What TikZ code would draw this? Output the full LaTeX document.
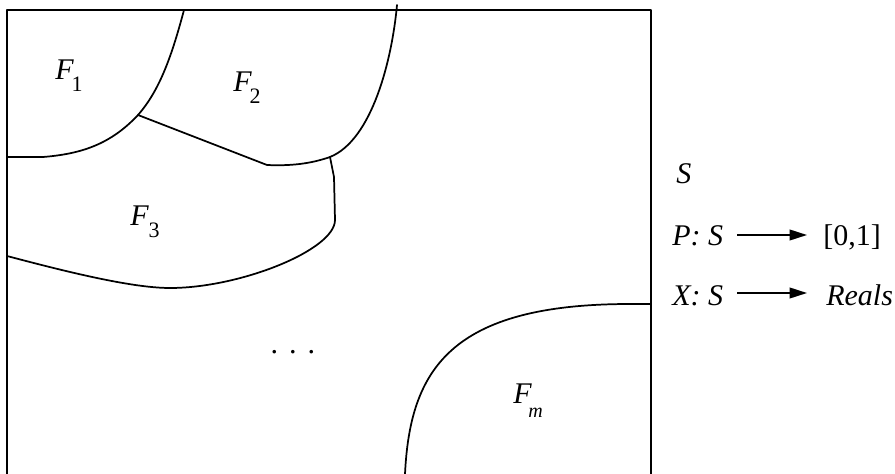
\documentclass[tikz,border=0pt]{standalone}
\usepackage{fontspec}
\setmainfont{Liberation Serif}
\usetikzlibrary{arrows.meta}
\begin{document}
\begin{tikzpicture}[x=0.75pt,y=-0.75pt,
  edge/.style={line width=1.3pt,line join=round,line cap=round},
  lab/.style={inner sep=0pt,anchor=base west,font=\fontsize{22.5}{22.5}\selectfont},
  subs/.style={font=\fontsize{16.5}{16.5}\selectfont},
  conn/.style={line width=1.3pt,-{Triangle[length=13pt,width=8pt]}}]
\useasboundingbox (0,0) rectangle (895,474);
% frame (bottom edge lies outside the picture)
\draw[edge] (7,474) -- (7,10) -- (651,10) -- (651,474);
% junctions
\coordinate (J1) at (138,115);
\coordinate (J2) at (330,157);
% F1 | F2
\draw[edge] (184,10) .. controls (172,55) and (160,90) .. (J1);
% F1 | F3
\draw[edge] (7,157) -- (43,157) .. controls (80,154) and (110,145) .. (J1);
% F2 | F3
\draw[edge] (J1) -- (267,165) .. controls (290,166) and (310,164) .. (J2);
% F2 right boundary
\draw[edge] (J2) .. controls (372,140) and (392,60) .. (397,5);
% F3 right and bottom boundary
\draw[edge] (J2) -- (334,177) -- (335,220) .. controls (335,250) and (240,288) .. (170,288)
  .. controls (130,288) and (60,270) .. (7,256);
% Fm boundary
\draw[edge] (651,304) -- (630,304) .. controls (450,304) and (410,370) .. (405,474);
% region labels
\node[lab] (f1) at (55,80) {\itshape F\kern-1.5pt\raisebox{-8.5pt}{\fontsize{16.5}{16.5}\selectfont\upshape 1}};
\node[lab] (f2) at (233,92) {\itshape F\kern-1.5pt\raisebox{-8.5pt}{\fontsize{16.5}{16.5}\selectfont\upshape 2}};
\node[lab] (f3) at (130,225) {\itshape F\kern0pt\raisebox{-9pt}{\fontsize{16.5}{16.5}\selectfont\upshape 3}};
\node[lab] (fm) at (513,403) {\itshape F\kern-2.5pt\raisebox{-10.5pt}{\fontsize{15}{15}\selectfont m}};
\node[lab] (dots) at (271,353) {\itshape .\hspace{8.3pt}.\hspace{8.3pt}.};
% legend
\node[lab] (s) at (676,183) {\itshape S};
\node[lab] (ps) at (672,245) {\itshape P: S};
\node[lab] (unit) at (823,245) {[0,1]};
\node[lab] (xs) at (672,305) {\itshape X: S};
\node[lab] (reals) at (826,305) {\itshape Reals};
\coordinate (a1s) at (737,235);
\coordinate (a1e) at (807,235);
\coordinate (a2s) at (737,293);
\coordinate (a2e) at (807,293);
\draw[conn] (a1s) -- (a1e);
\draw[conn] (a2s) -- (a2e);
\end{tikzpicture}
\end{document}
